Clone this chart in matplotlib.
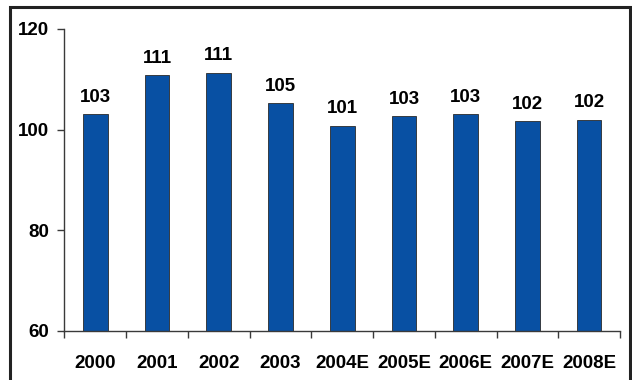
import matplotlib
matplotlib.use("Agg")
import matplotlib.pyplot as plt
from matplotlib.patches import Rectangle
import numpy as np

plt.rcParams['font.family'] = ['Liberation Sans', 'DejaVu Sans']
plt.rcParams['font.weight'] = 'bold'

years = ["2000", "2001", "2002", "2003", "2004E", "2005E", "2006E", "2007E", "2008E"]
values = [103.0, 110.8, 111.3, 105.3, 100.8, 102.6, 103.1, 101.7, 102.0]
yticks = [60, 80, 100, 120]

bar_color = "#0850A3"
axis_color = "#3a3a3a"

fig = plt.figure(figsize=(6.32, 3.80), dpi=100)
ax = fig.add_axes([0.102, 0.129, 0.879, 0.795])

x = np.arange(len(years))
bars = ax.bar(x, [v - 60 for v in values], bottom=60, width=0.4,
              color=bar_color, edgecolor="#2a2a2a", linewidth=0.6)

for xi, v in zip(x, values):
    ax.annotate(f"{v:.0f}", xy=(xi, v), xytext=(0, 6), textcoords="offset points",
                ha="center", va="bottom", fontsize=13.5, fontweight="bold")

ax.set_xlim(-0.5, len(years) - 0.5)
ax.set_ylim(60, 120)
ax.set_yticks(yticks)
ax.set_yticklabels([str(t) for t in yticks], fontsize=13.5, fontweight="bold")

ax.set_xticks(x)
ax.set_xticklabels(years, fontsize=13.5, fontweight="bold")
ax.set_xticks(np.arange(-0.5, len(years)), minor=True)
ax.tick_params(axis="x", which="major", length=0, pad=17)
ax.tick_params(axis="x", which="minor", length=5, width=1, color=axis_color, direction="out")
ax.tick_params(axis="y", which="major", length=5, width=1, color=axis_color, pad=6)

for side in ("top", "right"):
    ax.spines[side].set_visible(False)
for side in ("left", "bottom"):
    ax.spines[side].set_color(axis_color)
    ax.spines[side].set_linewidth(1)

# Outer frame around the chart
frame = Rectangle((9.5 / 632, -0.05), (629.5 - 9.5) / 632, 1.05 - 6.5 / 380,
                  transform=fig.transFigure, fill=False, edgecolor="#222222",
                  linewidth=2.2, clip_on=False)
fig.patches.append(frame)

fig.savefig("out.png", dpi=100)
